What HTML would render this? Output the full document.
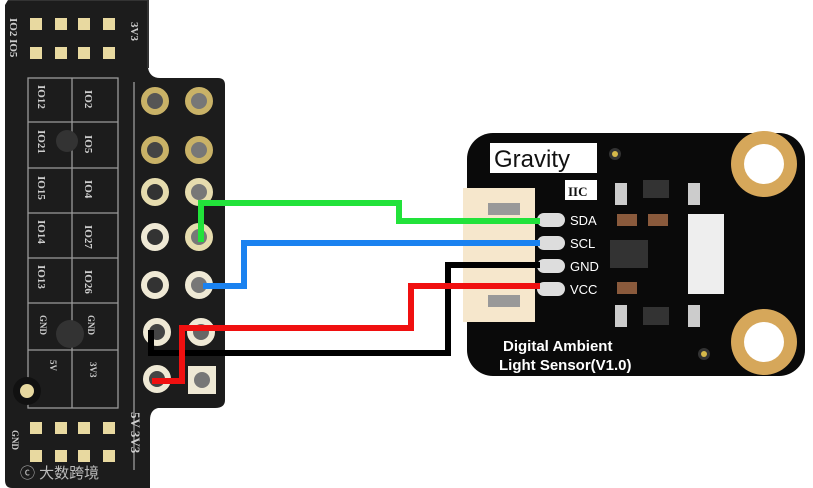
<!DOCTYPE html>
<html><head><meta charset="utf-8"><style>
html,body{margin:0;padding:0;background:#fff;width:813px;height:488px;overflow:hidden}
svg{display:block}
</style></head><body>
<svg width="813" height="488" viewBox="0 0 813 488" xmlns="http://www.w3.org/2000/svg" font-family="Liberation Sans, sans-serif">
<!-- left board -->
<path d="M8,0 L148,0 L148,68 Q150,78 160,78 L218,78 Q225,78 225,85 L225,400 Q225,408 215,408 L158,408 Q150,410 150,420 L150,488 L12,488 Q5,488 5,480 L5,5 Z" fill="#1c1c1c"/>
<path d="M8,0 L148,0 L148,68" fill="none" stroke="#333" stroke-width="2"/>
<!-- silkscreen grid -->
<g stroke="#9a9a9a" stroke-width="1.3" fill="none">
<rect x="28" y="78" width="90" height="330"/>
<line x1="28" y1="122" x2="118" y2="122"/><line x1="28" y1="168" x2="118" y2="168"/>
<line x1="28" y1="213" x2="118" y2="213"/><line x1="28" y1="258" x2="118" y2="258"/>
<line x1="28" y1="303" x2="118" y2="303"/><line x1="28" y1="350" x2="118" y2="350"/>
<line x1="72" y1="78" x2="72" y2="408"/>
<line x1="134" y1="82" x2="134" y2="470"/>
</g>
<g fill="#e8d9a0">
<rect x="30" y="18" width="12" height="12"/><rect x="55" y="18" width="12" height="12"/><rect x="78" y="18" width="12" height="12"/><rect x="103" y="18" width="12" height="12"/>
<rect x="30" y="47" width="12" height="12"/><rect x="55" y="47" width="12" height="12"/><rect x="78" y="47" width="12" height="12"/><rect x="103" y="47" width="12" height="12"/>
<rect x="30" y="422" width="12" height="12"/><rect x="55" y="422" width="12" height="12"/><rect x="78" y="422" width="12" height="12"/><rect x="103" y="422" width="12" height="12"/>
<rect x="30" y="450" width="12" height="12"/><rect x="55" y="450" width="12" height="12"/><rect x="78" y="450" width="12" height="12"/><rect x="103" y="450" width="12" height="12"/>
</g>
<circle cx="27" cy="391" r="14" fill="#111"/><circle cx="27" cy="391" r="7" fill="#e8d9a0"/>
<circle cx="67" cy="141" r="11" fill="#333"/><circle cx="70" cy="334" r="14" fill="#333"/>
<g fill="#ccc" font-size="11" font-family="Liberation Serif, serif" font-weight="bold">
<text transform="translate(131,22) rotate(90)">3V3</text>
<text transform="translate(10,18) rotate(90)">IO2 IO5</text>
<text transform="translate(38,85) rotate(90)">IO12</text><text transform="translate(85,90) rotate(90)">IO2</text>
<text transform="translate(38,130) rotate(90)">IO21</text><text transform="translate(85,135) rotate(90)">IO5</text>
<text transform="translate(38,176) rotate(90)">IO15</text><text transform="translate(85,180) rotate(90)">IO4</text>
<text transform="translate(38,220) rotate(90)">IO14</text><text transform="translate(85,225) rotate(90)">IO27</text>
<text transform="translate(38,265) rotate(90)">IO13</text><text transform="translate(85,270) rotate(90)">IO26</text>
<text transform="translate(40,315) rotate(90)" font-size="9">GND</text><text transform="translate(88,315) rotate(90)" font-size="9">GND</text>
<text transform="translate(50,360) rotate(90)" font-size="9">5V</text><text transform="translate(90,362) rotate(90)" font-size="9">3V3</text>
<text transform="translate(131,412) rotate(90)" font-size="13">5V 3V3</text>
<text transform="translate(12,430) rotate(90)" font-size="9">GND</text>
</g>
<text x="20" y="478" font-size="15" fill="#bbb" font-family="Liberation Sans, Noto Sans CJK SC, sans-serif">ⓒ 大数跨境</text>
<!-- holes -->
<g stroke-width="6">
<circle cx="155" cy="101" r="11" fill="#555" stroke="#c9b267"/><circle cx="199" cy="101" r="11" fill="#777" stroke="#c9b267"/>
<circle cx="155" cy="150" r="11" fill="#444" stroke="#c9b267"/><circle cx="199" cy="150" r="11" fill="#777" stroke="#c9b267"/>
<circle cx="155" cy="192" r="11" fill="#333" stroke="#e6dcae"/><circle cx="199" cy="192" r="11" fill="#777" stroke="#e6dcae"/>
<circle cx="155" cy="237" r="11" fill="#333" stroke="#efe9d5"/><circle cx="199" cy="237" r="11" fill="#777" stroke="#e6dcae"/>
<circle cx="155" cy="285" r="11" fill="#333" stroke="#efe9d5"/><circle cx="199" cy="285" r="11" fill="#777" stroke="#efe9d5"/>
<circle cx="157" cy="332" r="11" fill="#444" stroke="#efe9d5"/><circle cx="201" cy="332" r="11" fill="#666" stroke="#efe9d5"/>
<circle cx="157" cy="379" r="11" fill="#444" stroke="#efe9d5"/>
</g>
<rect x="188" y="366" width="28" height="28" fill="#efe9d5"/><circle cx="202" cy="380" r="8" fill="#777"/>
<!-- sensor board -->
<rect x="467" y="133" width="338" height="243" rx="26" fill="#0a0a0a"/>
<rect x="490" y="143" width="107" height="30" fill="#fff"/>
<text x="494" y="167" font-size="24" fill="#111">Gravity</text>
<circle cx="615" cy="154" r="6" fill="#333"/><circle cx="615" cy="154" r="3" fill="#d6b94a"/>
<circle cx="704" cy="354" r="6" fill="#333"/><circle cx="704" cy="354" r="3" fill="#d6b94a"/>
<rect x="565" y="180" width="32" height="20" fill="#fff"/>
<text x="568" y="196" font-size="13" font-weight="bold" font-family="Liberation Serif, serif" fill="#111">IIC</text>
<rect x="463" y="188" width="72" height="134" fill="#f6e7cc"/>
<rect x="488" y="203" width="32" height="12" fill="#999"/><rect x="488" y="295" width="32" height="12" fill="#999"/>
<g fill="#ddd">
<rect x="537" y="213" width="28" height="14" rx="7"/><rect x="537" y="236" width="28" height="14" rx="7"/>
<rect x="537" y="259" width="28" height="14" rx="7"/><rect x="537" y="282" width="28" height="14" rx="7"/>
</g>
<g fill="#fff" font-size="13">
<text x="570" y="225">SDA</text><text x="570" y="248">SCL</text><text x="570" y="271">GND</text><text x="570" y="294">VCC</text>
</g>
<g fill="#ccc"><rect x="615" y="183" width="12" height="22"/><rect x="688" y="183" width="12" height="22"/><rect x="615" y="305" width="12" height="22"/><rect x="688" y="305" width="12" height="22"/></g>
<rect x="643" y="180" width="26" height="18" fill="#333"/>
<rect x="643" y="307" width="26" height="18" fill="#333"/>
<g fill="#8a5a3c"><rect x="617" y="214" width="20" height="12"/><rect x="648" y="214" width="20" height="12"/><rect x="617" y="282" width="20" height="12"/></g>
<rect x="610" y="240" width="38" height="28" fill="#333"/>
<rect x="688" y="214" width="36" height="80" fill="#eee"/>
<g fill="#d6a75a">
<circle cx="764" cy="164" r="33"/><circle cx="764" cy="342" r="33"/>
</g>
<circle cx="764" cy="164" r="20" fill="#fff"/><circle cx="764" cy="342" r="20" fill="#fff"/>
<g fill="#fff" font-size="15" font-weight="bold">
<text x="503" y="351">Digital Ambient</text><text x="499" y="370">Light Sensor(V1.0)</text>
</g>
<!-- wires -->
<g fill="none" stroke-width="6" stroke-linejoin="miter" stroke-linecap="butt">
<polyline points="201,242 201,203 399,203 399,221 540,221" stroke="#22e23a"/>
<polyline points="203,286 244,286 244,243 540,243" stroke="#1a82f0"/>
<polyline points="151,330 151,353 448,353 448,265 540,265" stroke="#000"/>
<polyline points="152,381 182,381 182,328 411,328 411,286 540,286" stroke="#f01010"/>
</g>
</svg>
</body></html>
